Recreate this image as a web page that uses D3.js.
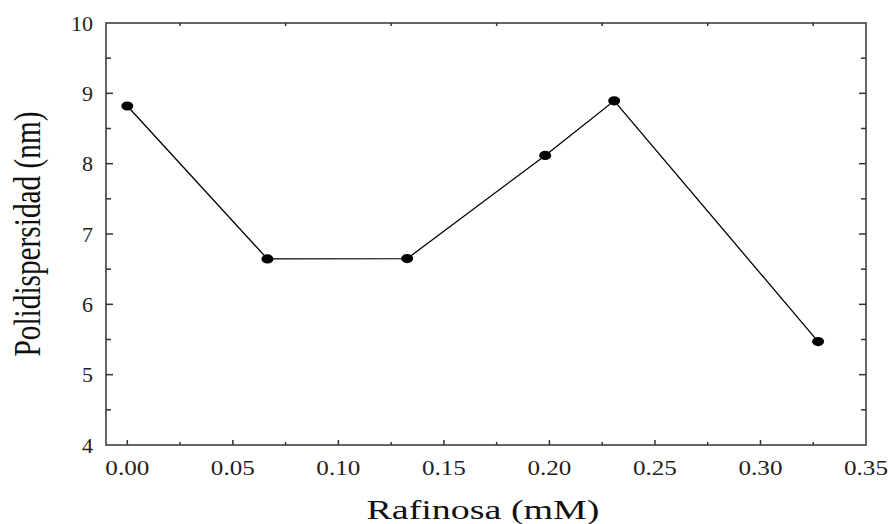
<!DOCTYPE html>
<html>
<head>
<meta charset="utf-8">
<script src="https://cdn.jsdelivr.net/npm/d3@7"></script>
<style>
  body { margin: 0; background: #fff; }
</style>
</head>
<body>
<svg width="891" height="524"></svg>
<script>
// data
const rafinosa = [0.0, 0.0664, 0.1326, 0.198, 0.2307, 0.3273];
const polidispersidad = [8.82, 6.645, 6.65, 8.117, 8.894, 5.47];
const xTicks = [0.00, 0.05, 0.10, 0.15, 0.20, 0.25, 0.30, 0.35];
const yTicks = [4, 5, 6, 7, 8, 9, 10];

const svgWidth = 891, svgHeight = 524;
const marginLeft = 106, marginRight = 25, marginTop = 23, marginBottom = 79;
const serif = '"Liberation Serif", "Times New Roman", serif';

const svg = d3.select("svg");

const x = d3.scaleLinear()
  .domain([-0.0101, 0.35])
  .range([marginLeft, svgWidth - marginRight]);

const y = d3.scaleLinear()
  .domain([4, 10])
  .range([svgHeight - marginBottom, marginTop]);

const x0 = marginLeft, x1 = svgWidth - marginRight;
const y0 = svgHeight - marginBottom, y1 = marginTop;

const axisCol = "#333";

// frame
svg.append("rect")
  .attr("x", x0).attr("y", y1)
  .attr("width", x1 - x0).attr("height", y0 - y1)
  .attr("fill", "none").attr("stroke", axisCol).attr("stroke-width", 1.5);

const ticks = svg.append("g").attr("stroke", axisCol).attr("stroke-width", 1.5);

// bottom: major + minor, pointing inward
const xMinor = d3.range(0.025, 0.35, 0.05);
xTicks.filter(v => v < 0.35).forEach(v => {
  ticks.append("line").attr("x1", x(v)).attr("x2", x(v)).attr("y1", y0).attr("y2", y0 - 5);
});
xMinor.forEach(v => {
  ticks.append("line").attr("x1", x(v)).attr("x2", x(v)).attr("y1", y0).attr("y2", y0 - 3);
  // top edge only carries the small ticks
  ticks.append("line").attr("x1", x(v)).attr("x2", x(v)).attr("y1", y1).attr("y2", y1 + 3);
});

// left and right: integers + halves
const yMinor = d3.range(4.5, 10, 1);
yTicks.filter(v => v > 4 && v < 10).forEach(v => {
  ticks.append("line").attr("x1", x0).attr("x2", x0 + 7).attr("y1", y(v)).attr("y2", y(v));
  ticks.append("line").attr("x1", x1).attr("x2", x1 - 7).attr("y1", y(v)).attr("y2", y(v));
});
yMinor.forEach(v => {
  ticks.append("line").attr("x1", x0).attr("x2", x0 + 5).attr("y1", y(v)).attr("y2", y(v));
  ticks.append("line").attr("x1", x1).attr("x2", x1 - 5).attr("y1", y(v)).attr("y2", y(v));
});

// tick labels
svg.append("g").selectAll("text")
  .data(xTicks)
  .join("text")
    .style("font-family", serif)
    .attr("fill", "#222")
    .attr("x", d => x(d))
    .attr("y", y0 + 30)
    .attr("text-anchor", "middle")
    .attr("font-size", 22)
    .attr("textLength", 44)
    .attr("lengthAdjust", "spacingAndGlyphs")
    .text(d => d.toFixed(2));

svg.append("g").selectAll("text")
  .data(yTicks)
  .join("text")
    .style("font-family", serif)
    .attr("fill", "#222")
    .attr("x", x0 - 13)
    .attr("y", d => y(d))
    .attr("dy", "0.35em")
    .attr("text-anchor", "end")
    .attr("font-size", 22)
    .text(d => d);

// axis titles
svg.append("text")
  .style("font-family", serif)
  .attr("fill", "#111")
  .attr("x", (x0 + x1) / 2 - 3)
  .attr("y", 519)
  .attr("text-anchor", "middle")
  .attr("font-size", 28)
  .attr("textLength", 233)
  .attr("lengthAdjust", "spacingAndGlyphs")
  .text("Rafinosa (mM)");

svg.append("text")
  .style("font-family", serif)
  .attr("fill", "#111")
  .attr("transform", `translate(40,${(y0 + y1) / 2}) rotate(-90)`)
  .attr("text-anchor", "middle")
  .attr("font-size", 38)
  .attr("textLength", 245)
  .attr("lengthAdjust", "spacingAndGlyphs")
  .text("Polidispersidad (nm)");

// series
const pts = rafinosa.map((r, i) => [r, polidispersidad[i]]);

svg.append("path")
  .datum(pts)
  .attr("fill", "none")
  .attr("stroke", "#000")
  .attr("stroke-width", 1.3)
  .attr("d", d3.line().x(d => x(d[0])).y(d => y(d[1])));

svg.append("g").selectAll("ellipse")
  .data(pts)
  .join("ellipse")
    .attr("cx", d => x(d[0]))
    .attr("cy", d => y(d[1]))
    .attr("rx", 6)
    .attr("ry", 4.6)
    .attr("fill", "#000");
</script>
</body>
</html>
